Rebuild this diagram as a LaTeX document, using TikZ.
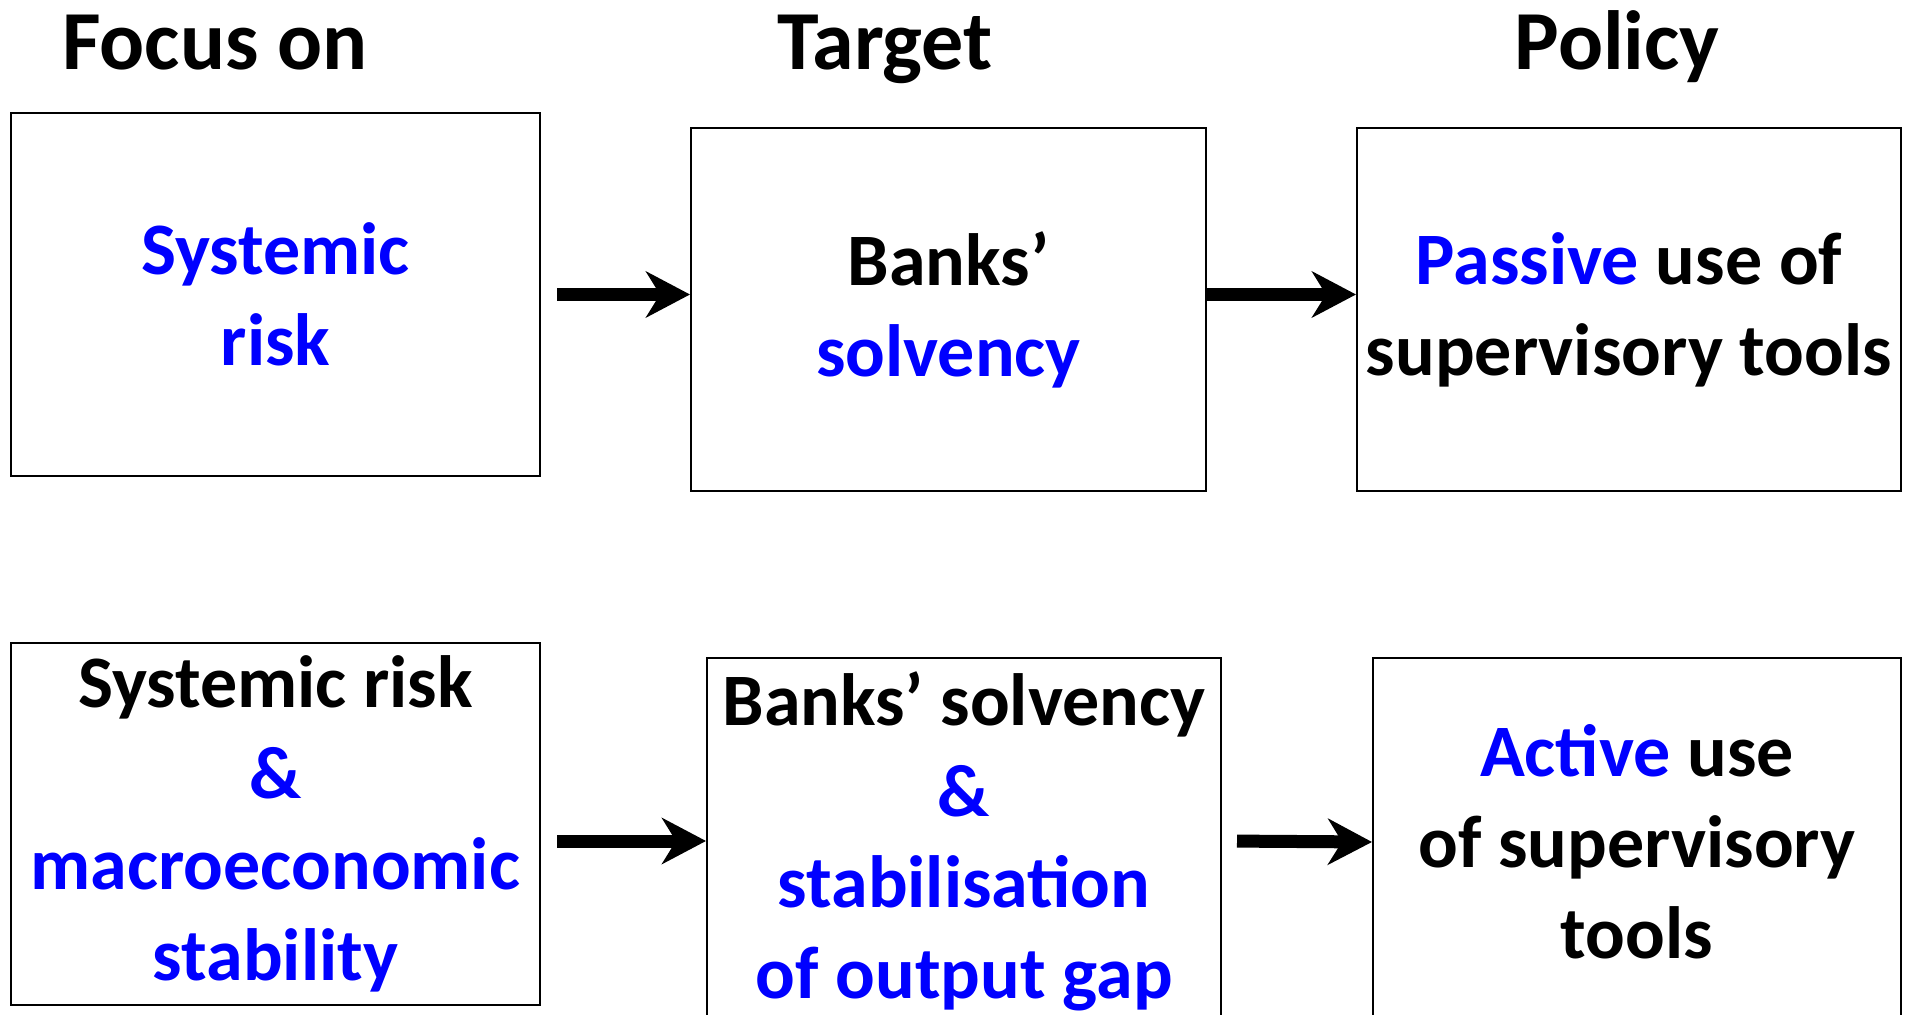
\documentclass[tikz,border=0pt]{standalone}
\usepackage{fontspec}
\setmainfont{Carlito}
\usetikzlibrary{arrows.meta}
\definecolor{txtblue}{RGB}{0,0,255}
\tikzset{
 box/.style={draw=black, line width=1pt, inner sep=0pt, align=center, font=\bfseries\fontsize{37}{45.5}\selectfont},
 head/.style={font=\bfseries\fontsize{42}{50}\selectfont, anchor=base, inner sep=0pt},
 flow/.style={line width=6.5pt, -{Stealth[length=22pt,width=23pt,inset=7pt]}},
}
\newcommand{\bl}[1]{\textcolor{txtblue}{#1}}
\begin{document}
\begin{tikzpicture}[x=0.5pt,y=-0.5pt]
\fill[white] (0,0) rectangle (1912,1015);
\useasboundingbox (0,0) rectangle (1912,1015);
\node[head] (h1) at (215,70) {Focus on};
\node[head] (h2) at (885,70) {Target};
\node[head] (h3) at (1617,70) {Policy};

\node[box, minimum width=264.5pt, minimum height=181.5pt] (b1) at (275.5,294.5) {\bl{Systemic}\\\bl{risk}};
\node[box, minimum width=257.5pt, minimum height=181.5pt] (b2) at (948.5,309.5) {Banks’\\\bl{solvency}};
\node[box, minimum width=272pt, minimum height=181.5pt] (b3) at (1629,309.5) {\bl{Passive} use of\\supervisory tools};

\node[box, minimum width=264.5pt, minimum height=181pt] (b4) at (275.5,824) {Systemic risk\\\bl{\&}\\\bl{macroeconomic}\\\bl{stability}};
\node[box, minimum width=257pt, minimum height=183pt] (b5) at (964,841) {Banks’ solvency\\\bl{\&}\\\bl{stabilisation}\\\bl{of output gap}};
\node[box, minimum width=264pt, minimum height=184pt] (b6) at (1637,842) {\bl{Active} use\\of supervisory\\tools};

\draw[flow, shorten <=8pt] (b1.east) -- (b1.east -| b2.west);
\draw[flow] (b1.east -| b2.east) -- (b1.east -| b3.west);
\draw[flow, shorten <=8pt] (b4.east |- b5.west) -- (b5.west);
\draw[flow, shorten <=7.5pt] (b5.east) -- (b6.west);
\end{tikzpicture}
\end{document}
